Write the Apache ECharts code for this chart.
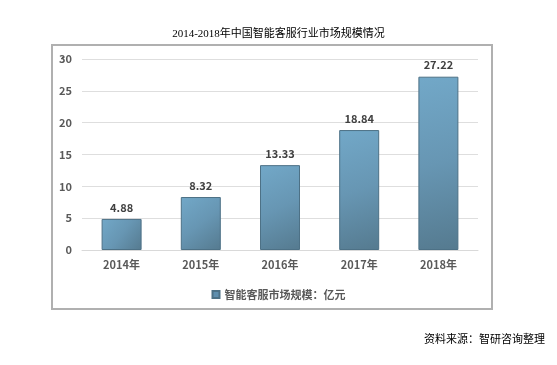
<!DOCTYPE html>
<html><head><meta charset="utf-8">
<script src="https://cdn.jsdelivr.net/npm/echarts@6/dist/echarts.min.js"></script>
<style>html,body{margin:0;padding:0;background:#fff}#c{width:557px;height:365px}</style>
</head><body><div id="c"></div>
<script>
const categories = ['2014年','2015年','2016年','2017年','2018年'];
const values = [4.88, 8.32, 13.33, 18.84, 27.22];
const seriesName = '智能客服市场规模：亿元';
const yTicks = {min:0, max:30, interval:5};
const titleText = '2014-2018年中国智能客服行业市场规模情况';
const sourceText = '资料来源：智研咨询整理';

const chart = echarts.init(document.getElementById('c'));
const grad = new echarts.graphic.LinearGradient(0,0,1,1,[
  {offset:0,color:'#72a8c8'},{offset:0.5,color:'#6796b3'},{offset:1,color:'#557a8f'}]);
const serif = '"Liberation Serif","Noto Sans CJK SC"';
chart.setOption({
  animation:false,
  title:{text:titleText,left:'center',top:24,textStyle:{fontSize:11,fontWeight:'normal',color:'#000',fontFamily:serif}},
  graphic:[
    {type:'rect',shape:{x:52,y:45,width:440,height:264},style:{fill:'none',stroke:'#b0b0b0',lineWidth:2}},
    {type:'text',right:12,top:335,style:{text:sourceText,fontSize:11,fill:'#000',fontFamily:serif}}
  ],
  legend:{top:284,left:'center',itemWidth:7,itemHeight:7,icon:'rect',
    textStyle:{fontSize:11,fontWeight:'bold',color:'#595959',fontFamily:'Noto Sans CJK SC'},
    data:[{name:seriesName,itemStyle:{color:'#5f8fae'}}]},
  grid:{left:82,right:79,top:59,bottom:115},
  xAxis:{type:'category',data:categories,
    axisLine:{lineStyle:{color:'#d9d9d9'}},axisTick:{show:false},
    axisLabel:{fontSize:11,fontWeight:'bold',color:'#595959',margin:9,fontFamily:'Noto Sans CJK SC'}},
  yAxis:{type:'value',min:yTicks.min,max:yTicks.max,interval:yTicks.interval,
    axisLine:{show:false},axisTick:{show:false},
    splitLine:{lineStyle:{color:'#dedede'}},
    axisLabel:{fontSize:11,fontWeight:'bold',color:'#595959',margin:10,fontFamily:'Noto Sans CJK SC'}},
  series:[{name:seriesName,type:'bar',data:values,barWidth:40,
    itemStyle:{color:grad,borderColor:'#4d7186',borderWidth:1},
    label:{show:true,position:'top',distance:6,fontSize:11,fontWeight:'bold',color:'#404040',fontFamily:'Noto Sans CJK SC'}}]
});
</script></body></html>
